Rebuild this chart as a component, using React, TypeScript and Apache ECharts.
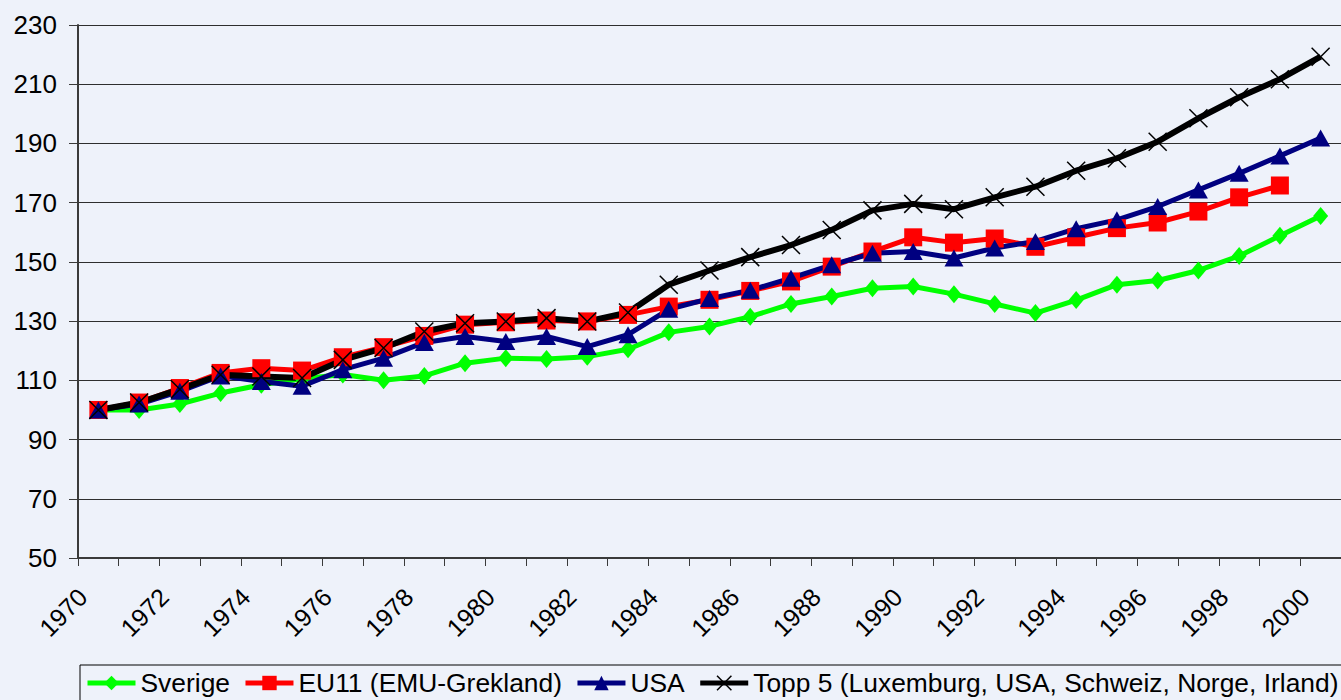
import React, { useEffect, useRef } from "react";
import * as echarts from "echarts";

const years = [
  "1970", "1971", "1972", "1973", "1974", "1975", "1976", "1977", "1978", "1979",
  "1980", "1981", "1982", "1983", "1984", "1985", "1986", "1987", "1988", "1989",
  "1990", "1991", "1992", "1993", "1994", "1995", "1996", "1997", "1998", "1999", "2000",
];

const sverige = [
  100, 100, 102, 105.7, 108.5, 110.5, 112, 110, 111.5, 115.8,
  117.5, 117.2, 118, 120.5, 126.2, 128.2, 131.5, 135.8, 138.3, 141.1,
  141.7, 139.1, 135.8, 132.7, 137.1, 142.3, 143.7, 147.1, 152, 158.8, 165.5,
];

const eu11 = [
  100, 102.5, 107.4, 112.5, 114.1, 113.3, 117.8, 121.2, 125, 128.8,
  129.6, 130.2, 129.9, 132.1, 134.9, 137.2, 140.2, 143.4, 148.4, 153.5,
  158.3, 156.5, 157.9, 155.1, 158.3, 161.4, 163.3, 167, 171.8, 175.8, null,
];

const usa = [
  100, 102, 106.3, 111.5, 109.6, 108, 113.6, 117.5, 122.8, 124.8,
  123.1, 124.8, 121.4, 125.4, 134, 137.6, 140.4, 144.5, 149, 152.9,
  153.5, 151.3, 154.7, 156.9, 161.2, 164.2, 168.7, 174.3, 179.9, 185.8, 191.8,
];

const topp5 = [
  100, 102.5, 107, 111.9, 111.3, 110.8, 116.9, 120.9, 126.5, 129.3,
  129.9, 131, 129.9, 132.9, 142.3, 147.1, 151.6, 155.7, 160.8, 167.4,
  169.6, 167.8, 171.8, 175.4, 180.8, 185, 190.6, 198.5, 205.6, 211.7, 219.3,
];

const names = [
  "Sverige",
  "EU11 (EMU-Grekland)",
  "USA",
  "Topp 5 (Luxemburg, USA, Schweiz, Norge, Irland)",
];

const CROSS = "path://M0,0L10,10M0,10L10,0";
const FONT = "Liberation Sans, Arial, sans-serif";

export default function App() {
  const ref = useRef<HTMLDivElement>(null);

  useEffect(() => {
    const chart = echarts.init(ref.current!, null, { renderer: "svg" });

    const defs = [
      { name: names[0], data: sverige, color: "#00FF00", symbol: "diamond", size: [15, 18], lw: 5 },
      { name: names[1], data: eu11, color: "#FF0000", symbol: "rect", size: [18, 18], lw: 5 },
      { name: names[2], data: usa, color: "#000080", symbol: "triangle", size: [19, 17], lw: 5 },
      { name: names[3], data: topp5, color: "#000000", symbol: CROSS, size: [18, 18], lw: 6 },
    ];

    const lineSeries = defs.map((d) => ({
      type: "line",
      name: d.name,
      data: d.data,
      symbol: d.symbol,
      symbolSize: d.size,
      showSymbol: false,
      z: 2,
      color: d.color,
      lineStyle: { color: d.color, width: d.lw },
      itemStyle: {
        color: d.color,
        borderColor: d.color,
        borderWidth: d.symbol === CROSS ? 1.5 : 0,
      },
      emphasis: { disabled: true },
    }));

    const markerSeries = defs.map((d) => ({
      type: "scatter",
      name: d.name,
      data: d.data,
      symbol: d.symbol,
      symbolSize: d.size,
      z: 3,
      itemStyle: {
        color: d.color,
        borderColor: d.color,
        borderWidth: d.symbol === CROSS ? 1.5 : 0,
        opacity: 1,
      },
      emphasis: { disabled: true },
    }));

    chart.setOption({
      animation: false,
      backgroundColor: "#EEF2FA",
      textStyle: { fontFamily: FONT, color: "#000" },
      grid: { left: 78, top: 25, bottom: 142, right: -11, containLabel: false },
      xAxis: {
        type: "category",
        data: years,
        boundaryGap: true,
        axisLine: { lineStyle: { color: "#3a3a3a", width: 2 } },
        axisTick: { show: true, interval: 0, length: 8, lineStyle: { color: "#3a3a3a", width: 1 } },
        axisLabel: {
          interval: 1,
          rotate: 45,
          fontSize: 25,
          color: "#000",
          margin: 19,
          padding: [0, 22, 0, 0],
          fontFamily: FONT,
        },
        splitLine: { show: false },
      },
      yAxis: {
        type: "value",
        min: 50,
        max: 230,
        interval: 20,
        axisLine: { show: true, lineStyle: { color: "#3a3a3a", width: 2 } },
        axisTick: { show: true, length: 9, lineStyle: { color: "#3a3a3a", width: 1 } },
        axisLabel: {
          fontSize: 26,
          color: "#000",
          margin: 21,
          fontFamily: FONT,
        },
        splitLine: { show: true, lineStyle: { color: "#2e2e2e", width: 1 } },
      },
      legend: {
        data: names.map((n, i) =>
          i === 3
            ? {
                name: n,
                itemStyle: { borderColor: "#000", borderWidth: 1.5 },
                lineStyle: { width: 5 },
              }
            : { name: n, lineStyle: { width: 5 } }
        ),
        left: 80,
        top: 665,
        width: 1800,
        orient: "horizontal",
        padding: [5, 120, 30, 5],
        itemWidth: 48,
        itemHeight: 18,
        itemGap: 13,
        borderColor: "#000",
        borderWidth: 1,
        backgroundColor: "#EEF2FA",
        selectedMode: false,
        lineStyle: { width: 5 },
        textStyle: {
          fontSize: 26.4,
          color: "#000",
          fontFamily: FONT,
        },
      },
      series: [...lineSeries, ...markerSeries],
    });

    return () => chart.dispose();
  }, []);

  return (
    <div
      ref={ref}
      style={{ position: "fixed", left: 0, top: 0, width: 1341, height: 700 }}
    />
  );
}
